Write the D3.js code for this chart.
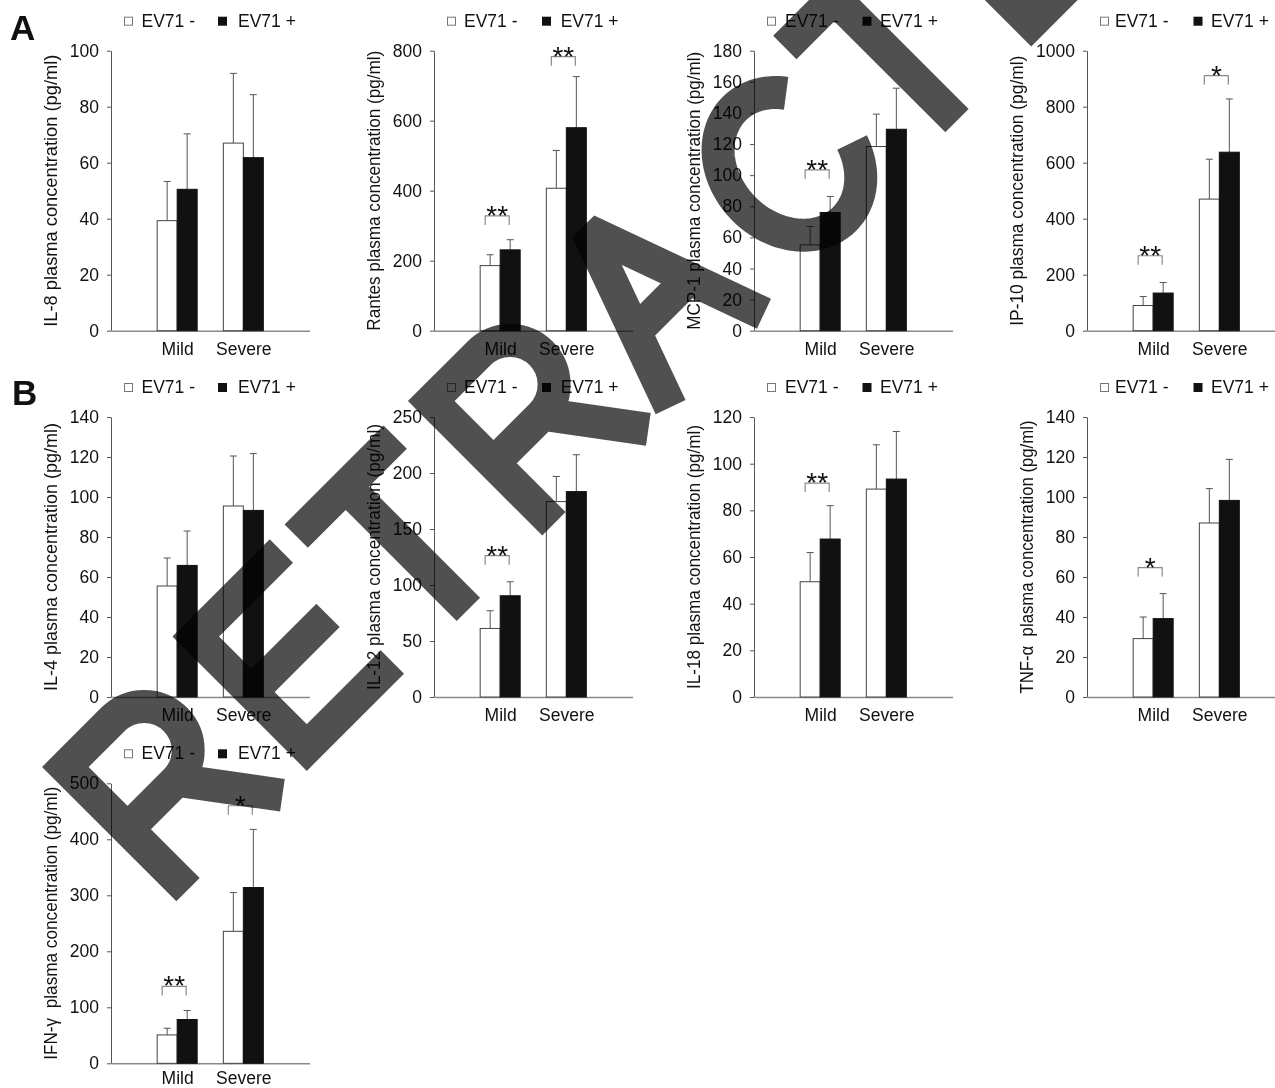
<!DOCTYPE html>
<html><head><meta charset="utf-8">
<script src="https://cdn.jsdelivr.net/npm/d3@7"></script>
<style>
html,body{margin:0;padding:0;background:#fff;}
svg{display:block;}
</style></head><body>
<svg id="chart" width="1275" height="1088"></svg>
<script>
// ---------- data ----------
const categories = ["Mild", "Severe"];
const groups = ["EV71 -", "EV71 +"];
const cytokines = ["IL-8", "Rantes", "MCP-1", "IP-10", "IL-4", "IL-12", "IL-18", "TNF-α", "IFN-γ"];
const yTitles = [
  "IL-8 plasma concentration (pg/ml)",
  "Rantes plasma concentration (pg/ml)",
  "MCP-1 plasma concentration (pg/ml)",
  "IP-10 plasma concentration (pg/ml)",
  "IL-4 plasma concentration (pg/ml)",
  "IL-12 plasma concentration (pg/ml)",
  "IL-18 plasma concentration (pg/ml)",
  "TNF-α  plasma concentration (pg/ml)",
  "IFN-γ  plasma concentration (pg/ml)"
];
const yMax  = [100, 800, 180, 1000, 140, 250, 120, 140, 500];
const yStep = [20, 200, 20, 200, 20, 50, 20, 20, 100];
const mildNeg    = [39.3, 186, 55.2, 90, 55.5, 61.2, 49.4, 29.2, 50.7];
const mildPos    = [50.5, 231, 76, 134.5, 65.8, 90.4, 67.7, 39.2, 78.2];
const severeNeg  = [67.0, 407, 118.4, 470, 95.5, 174.5, 89.1, 87, 235.7];
const severePos  = [61.8, 580, 129.5, 637.5, 93.3, 183.4, 93.4, 98.3, 313.9];
const mildNegErr   = [14.0, 31, 11.8, 32, 14, 15.8, 12.5, 10.8, 11.9];
const mildPosErr   = [19.8, 29, 10.3, 37.5, 17.2, 12.5, 14.3, 12.5, 16.1];
const severeNegErr = [24.9, 108, 20.8, 142.5, 25, 22.4, 19, 17.2, 69.2];
const severePosErr = [22.5, 146, 26.4, 190.2, 28.4, 32.9, 20.4, 20.5, 103.8];
const sigMild   = ["", "**", "**", "**", "", "**", "**", "*", "**"];
const sigSevere = ["", "**", "", "*", "", "", "", "", "*"];
const sigMildLevel   = [null, 328, 103.4, 267.6, null, 126.2, 91.7, 64.7, 137.3];
const sigSevereLevel = [null, 783, null, 910.8, null, null, null, null, 459.9];
const panelLetters = ["A", "B"];
const watermark = "RETRACTED";

// ---------- layout ----------
const FONT = '"Liberation Sans", Arial, Helvetica, sans-serif';
const colX = [111, 434, 754, 1087];
const rowTop = [50.7, 417, 783.3];
const rowLabelPad = [11.5, 11.5, 8.5];
const plotH = 280, plotW = 198.5;
const titleLen = [272, 280, 278, 270, 268, 266, 264, 273, 273];
const legText1 = [30.5, 30, 31, 28];
const legSq2   = [107, 108, 108.5, 106.5];
const legText2 = [127, 126.7, 126, 124];

const svg = d3.select("#chart");
svg.append("rect").attr("width", 1275).attr("height", 1088).attr("fill", "#fff");

cytokines.forEach((name, i) => {
  const col = i % 4, row = Math.floor(i / 4);
  const ax = colX[col], top = rowTop[row], bottom = top + plotH;
  const g = svg.append("g").attr("font-family", FONT);

  const y = d3.scaleLinear().domain([0, yMax[i]]).range([bottom, top]);
  const x0 = d3.scalePoint().domain(categories).range([ax, ax + plotW]).padding(1);
  const x1 = d3.scaleBand().domain(groups).range([-20, 20]).padding(0);
  const ticks = d3.range(0, yMax[i] + yStep[i] / 2, yStep[i]);

  // y axis
  const ya = g.append("g").attr("transform", `translate(${ax},0)`)
    .call(d3.axisLeft(y).tickValues(ticks).tickSize(4).tickSizeOuter(0).tickPadding(8).tickFormat(d3.format("d")));
  ya.attr("font-family", FONT);
  ya.select(".domain").attr("stroke", "#555");
  ya.selectAll(".tick line").attr("stroke", "#555");
  ya.selectAll(".tick text").attr("font-size", 17.5).attr("font-family", FONT).attr("fill", "#111");
  let maxW = 0;
  ya.selectAll(".tick text").each(function () { maxW = Math.max(maxW, this.getBBox().width); });

  // x axis
  const xa = g.append("g").attr("transform", `translate(0,${bottom})`)
    .call(d3.axisBottom(x0).tickSize(0).tickSizeOuter(0).tickPadding(rowLabelPad[row]));
  xa.attr("font-family", FONT);
  xa.select(".domain").attr("stroke", "#8a8a8a").attr("stroke-width", 1.5);
  xa.selectAll(".tick text").attr("font-size", 17.5).attr("font-family", FONT).attr("fill", "#111");

  // bars
  const rows = [
    { cat: "Mild", grp: groups[0], v: mildNeg[i], e: mildNegErr[i] },
    { cat: "Mild", grp: groups[1], v: mildPos[i], e: mildPosErr[i] },
    { cat: "Severe", grp: groups[0], v: severeNeg[i], e: severeNegErr[i] },
    { cat: "Severe", grp: groups[1], v: severePos[i], e: severePosErr[i] }
  ];
  const bw = x1.bandwidth();
  rows.forEach(d => {
    const cx = x0(d.cat) + x1(d.grp) + bw / 2;
    g.append("line").attr("x1", cx).attr("x2", cx).attr("y1", y(d.v)).attr("y2", y(d.v + d.e))
      .attr("stroke", "#555").attr("stroke-width", 1);
    g.append("line").attr("x1", cx - 3.5).attr("x2", cx + 3.5).attr("y1", y(d.v + d.e)).attr("y2", y(d.v + d.e))
      .attr("stroke", "#555").attr("stroke-width", 1);
  });
  g.selectAll("rect.bar").data(rows).join("rect").attr("class", "bar")
    .attr("x", d => x0(d.cat) + x1(d.grp))
    .attr("y", d => y(d.v))
    .attr("width", bw)
    .attr("height", d => bottom - y(d.v))
    .attr("fill", d => d.grp === groups[0] ? "#fff" : "#111")
    .attr("stroke", d => d.grp === groups[0] ? "#444" : "#111")
    .attr("stroke-width", 1);

  // significance brackets
  [[sigMild[i], sigMildLevel[i], "Mild"], [sigSevere[i], sigSevereLevel[i], "Severe"]].forEach(([s, lvl, cat]) => {
    if (!s) return;
    const cx = x0(cat);
    const by = y(lvl);
    g.append("path").attr("d", `M${cx - 15},${by + 9}V${by}H${cx + 9}V${by + 9}`)
      .attr("fill", "none").attr("stroke", "#8a8a8a").attr("stroke-width", 1.2);
    g.append("text").attr("x", cx - 3).attr("y", by + 9).attr("text-anchor", "middle")
      .attr("font-size", 28).attr("fill", "#111").text(s);
  });

  // legend
  const lg = g.append("g");
  lg.append("rect").attr("x", ax + 13.5).attr("y", top - 33.5).attr("width", 8).attr("height", 8)
    .attr("fill", "#fff").attr("stroke", "#777");
  lg.append("text").attr("x", ax + legText1[col]).attr("y", top - 24).attr("font-size", 17.5).attr("fill", "#111").text(groups[0]);
  lg.append("rect").attr("x", ax + legSq2[col]).attr("y", top - 34).attr("width", 9).attr("height", 9).attr("fill", "#111");
  lg.append("text").attr("x", ax + legText2[col]).attr("y", top - 24).attr("font-size", 17.5).attr("fill", "#111").text(groups[1]);

  // y title
  const tx = ax - 12 - maxW - 13;
  g.append("text").attr("transform", `translate(${tx},${(top + bottom) / 2}) rotate(-90)`)
    .attr("text-anchor", "middle").attr("font-size", 17.5).attr("fill", "#111")
    .attr("textLength", titleLen[i]).attr("lengthAdjust", "spacingAndGlyphs")
    .style("white-space", "pre").text(yTitles[i]);
});

// panel letters
svg.append("text").attr("x", 10).attr("y", 40).attr("font-family", FONT).attr("font-weight", "bold")
  .attr("font-size", 35).attr("fill", "#111").text(panelLetters[0]);
svg.append("text").attr("x", 12).attr("y", 405).attr("font-family", FONT).attr("font-weight", "bold")
  .attr("font-size", 35).attr("fill", "#111").text(panelLetters[1]);

// ---------- RETRACTED watermark (stroke letters along a 45° baseline) ----------
const H = 190, W2 = 16.5;   // letter height, half stroke
function glyph(ch, o) {
  const p = d3.path();
  if (ch === "R") {
    p.moveTo(o + W2, 0); p.lineTo(o + W2, H);
    p.moveTo(o, W2); p.lineTo(o + 84, W2);
    p.arc(o + 84, W2 + 44, 44, -Math.PI / 2, Math.PI / 2);
    p.lineTo(o + W2, W2 + 88);
    p.moveTo(o + 86, W2 + 88); p.lineTo(o + 150, H);
  } else if (ch === "E") {
    p.moveTo(o + W2, 0); p.lineTo(o + W2, H);
    p.moveTo(o, W2); p.lineTo(o + 137.5, W2);
    p.moveTo(o + W2, 95); p.lineTo(o + 125, 95);
    p.moveTo(o, H - W2); p.lineTo(o + 137.5, H - W2);
  } else if (ch === "T") {  // o = stem centre
    p.moveTo(o - 70, W2); p.lineTo(o + 70, W2);
    p.moveTo(o, W2); p.lineTo(o, H);
  } else if (ch === "A") {  // o = apex centre
    p.moveTo(o - 66, H); p.lineTo(o, 6); p.lineTo(o + 66, H);
    p.moveTo(o - 38, 112); p.lineTo(o + 38, 112);
  } else if (ch === "C") {  // o = bowl centre
    const cx = o, cy = 102, rx = 64, ry = 78;
    for (let a = 42; a <= 338; a += 2) {
      const t = a * Math.PI / 180;
      const px = cx + rx * Math.cos(t), py = cy - ry * Math.sin(t);
      if (a === 42) p.moveTo(px, py); else p.lineTo(px, py);
    }
  } else if (ch === "D") {
    p.moveTo(o + W2, 0); p.lineTo(o + W2, H);
    p.moveTo(o, W2); p.lineTo(o + 70, W2);
    p.arc(o + 70, H / 2, H / 2 - W2, -Math.PI / 2, Math.PI / 2);
    p.lineTo(o, H - W2);
  }
  return p.toString();
}
const wmAnchor = [0, 184.5, 413, 517.5, 765, 955, 1104, 1209, 1370];
const wm = svg.append("g")
  .attr("transform", "translate(42,767) rotate(-45)")
  .attr("aria-label", watermark)
  .style("mix-blend-mode", "multiply");
wm.append("title").text(watermark);
wm.selectAll("path").data(watermark.split("")).join("path")
  .attr("d", (ch, k) => glyph(ch, wmAnchor[k]))
  .attr("fill", "none").attr("stroke", "#505050").attr("stroke-width", 33)
  .attr("stroke-linecap", "butt")
  .attr("stroke-linejoin", ch => ch === "A" ? "bevel" : "miter");
</script>
</body></html>
